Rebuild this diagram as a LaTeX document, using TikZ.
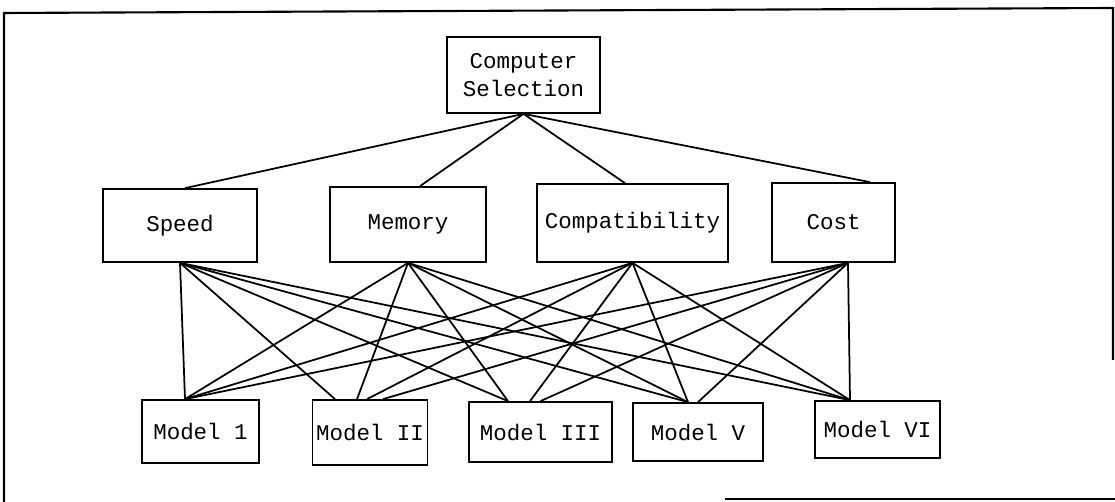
\documentclass[tikz,border=0pt]{standalone}
\usepackage{fontspec}
\setmonofont{Liberation Mono}

\begin{document}
\begin{tikzpicture}[x=0.02cm, y=-0.02cm,
    line width=1pt,
    box/.style={draw, black, inner sep=2pt, font=\ttfamily\fontsize{12.8}{16}\selectfont, align=center},
    link/.style={black, line width=1pt}]

    \useasboundingbox (0,0) rectangle (1115,502);

    % Outer frame (scanned, partly open)
    \draw[line width=1.2pt] (4,502) -- (4,13) -- (1113,8) -- (1113,360);
    \draw[line width=1.2pt] (725,499) -- (1115,499);

    % Goal
    \node[box, minimum width=3.06cm, minimum height=1.52cm] (goal) at (523.5,75) {Computer\\Selection};

    % Criteria
    \node[box, minimum width=3.08cm, minimum height=1.46cm] (speed)  at (180,225.5) {Speed};
    \node[box, minimum width=3.12cm, minimum height=1.50cm] (memory) at (408,224.5) {Memory};
    \node[box, minimum width=3.82cm, minimum height=1.56cm] (compat) at (632.5,223) {Compatibility};
    \node[box, minimum width=2.46cm, minimum height=1.58cm] (cost)   at (833.5,222.5) {Cost};

    % Alternatives
    \node[box, minimum width=2.34cm, minimum height=1.26cm] (m1) at (200.5,431.5) {Model 1};
    \node[box, minimum width=2.28cm, minimum height=1.30cm] (m2) at (370,432.5) {Model II};
    \node[box, minimum width=2.86cm, minimum height=1.20cm] (m3) at (540.5,432) {Model III};
    \node[box, minimum width=2.60cm, minimum height=1.16cm] (m5) at (698,432) {Model V};
    \node[box, minimum width=2.50cm, minimum height=1.14cm] (m6) at (877.5,429.5) {Model VI};

    % Goal to criteria
    \draw[link] (goal.south) -- ([xshift=0.10cm]speed.north);
    \draw[link] (goal.south) -- ([xshift=0.24cm]memory.north);
    \draw[link] (goal.south) -- ([xshift=-0.15cm]compat.north);
    \draw[link] (goal.south) -- ([xshift=0.73cm]cost.north);

    % Criteria to alternatives
    \coordinate (speedb)  at (speed.south);
    \coordinate (memoryb) at (memory.south);
    \coordinate (compatb) at (compat.south);
    \coordinate (costb)   at ([xshift=0.29cm]cost.south);
    \foreach \c/\m/\s in {speed/m1/-0.31, speed/m2/-0.70, speed/m3/-0.65, speed/m5/-0.20, speed/m6/-0.55,
                          memory/m1/-0.31, memory/m2/-0.26, memory/m3/-0.65, memory/m5/-0.20, memory/m6/-0.55,
                          compat/m1/-0.31, compat/m2/-0.06, compat/m3/-0.21, compat/m5/-0.20, compat/m6/-0.55,
                          cost/m1/-0.31, cost/m2/0.26, cost/m3/0, cost/m5/0, cost/m6/-0.55}{
        \draw[link] (\c b) -- ([xshift=\s cm]\m.north);
    }

\end{tikzpicture}
\end{document}
